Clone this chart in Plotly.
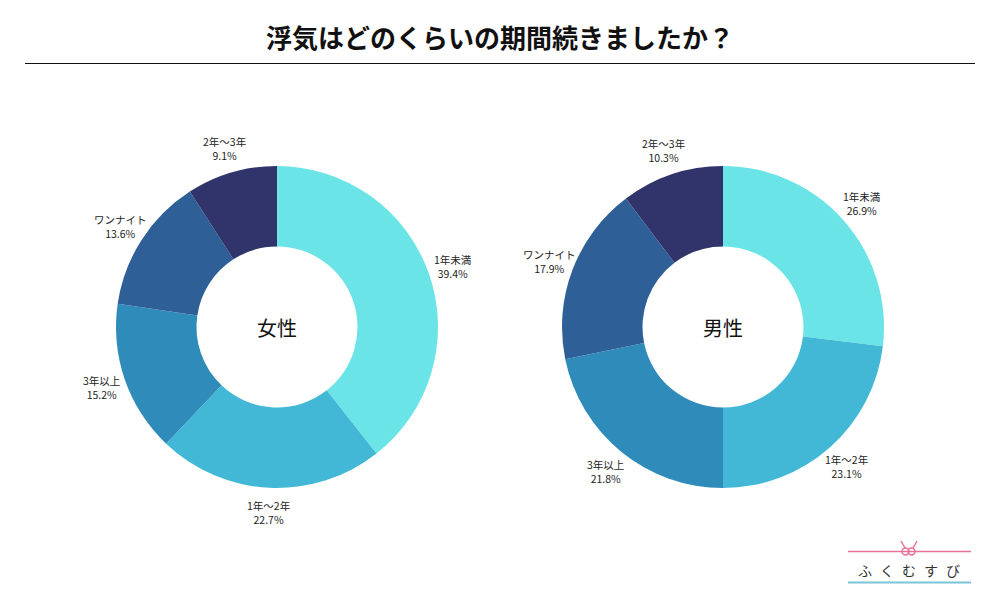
import math
import plotly.graph_objects as go

title = "浮気はどのくらいの期間続きましたか？"
categories = ["1年未満", "1年～2年", "3年以上", "ワンナイト", "2年～3年"]
female = [39.4, 22.7, 15.2, 13.6, 9.1]
male = [26.9, 23.1, 21.8, 17.9, 10.3]
groups = ["女性", "男性"]
colors = ["#6BE4E8", "#42B8D6", "#2E8BBA", "#2E5F97", "#30346B"]
logo_chars = ["ふ", "く", "む", "す", "び"]
FONT = "Noto Sans CJK JP"

W, H = 1000, 600
R = 161          # outer radius, px
LABEL_R = 186    # label-centre radius, px
CY = 327
centers = [277, 723]


def px(x):
    return x / W


def py(y):
    return 1 - y / H


fig = go.Figure()
for vals, cx, name in zip([female, male], centers, groups):
    fig.add_trace(go.Pie(
        labels=categories, values=vals, sort=False, direction="clockwise", rotation=0,
        hole=0.5, marker=dict(colors=colors, line=dict(width=0)),
        textinfo="none", hoverinfo="skip", showlegend=False,
        domain=dict(x=[px(cx - R), px(cx + R)], y=[py(CY + R), py(CY - R)]),
        name=name,
    ))
    fig.add_annotation(x=px(cx), y=py(CY), xref="paper", yref="paper", text=name,
                       showarrow=False, xanchor="center", yanchor="middle",
                       font=dict(family=FONT, size=20, color="#111111"))
    total = sum(vals)
    cum = 0.0
    for lab, v in zip(categories, vals):
        ang = math.radians((cum + v / 2) / total * 360)
        cum += v
        lx = cx + LABEL_R * math.sin(ang)
        ly = CY - LABEL_R * math.cos(ang)
        fig.add_annotation(x=px(lx), y=py(ly), xref="paper", yref="paper",
                           text=f"{lab}<br>{v:.1f}%", showarrow=False,
                           xanchor="center", yanchor="middle", align="center",
                           font=dict(family=FONT, size=10.5, color="#222222"))

fig.add_annotation(x=0.5, y=py(36), xref="paper", yref="paper", text="<b>" + title + "</b>",
                   showarrow=False, xanchor="center", yanchor="middle",
                   font=dict(family=FONT, size=26, color="#111111"))
fig.add_shape(type="line", xref="paper", yref="paper", x0=px(25), x1=px(975),
              y0=py(63.5), y1=py(63.5), line=dict(color="#111111", width=1))

# logo
PINK = "#E8709A"
fig.add_shape(type="line", xref="paper", yref="paper", x0=px(848), x1=px(971),
              y0=py(551.5), y1=py(551.5), line=dict(color=PINK, width=1.5))
fig.add_shape(type="line", xref="paper", yref="paper", x0=px(848), x1=px(971),
              y0=py(582.5), y1=py(582.5), line=dict(color="#7CC4D8", width=2))
fig.add_shape(type="circle", xref="paper", yref="paper", x0=px(902), x1=px(909),
              y0=py(555), y1=py(548), line=dict(color=PINK, width=1.5))
fig.add_shape(type="circle", xref="paper", yref="paper", x0=px(908), x1=px(915),
              y0=py(555), y1=py(548), line=dict(color=PINK, width=1.5))
fig.add_shape(type="line", xref="paper", yref="paper", x0=px(901), x1=px(905),
              y0=py(541), y1=py(548), line=dict(color=PINK, width=1.5))
fig.add_shape(type="line", xref="paper", yref="paper", x0=px(917), x1=px(913),
              y0=py(541), y1=py(548), line=dict(color=PINK, width=1.5))
for i, ch in enumerate(logo_chars):
    fig.add_annotation(x=px(865 + i * 22), y=py(570), xref="paper", yref="paper", text=ch,
                       showarrow=False, xanchor="center", yanchor="middle",
                       font=dict(family=FONT, size=14, color="#333333"))

fig.update_layout(width=W, height=H, margin=dict(l=0, r=0, t=0, b=0),
                  paper_bgcolor="white", plot_bgcolor="white")
fig.write_html("out.html", config={"displayModeBar": False})

with open("out.html", encoding="utf-8") as f:
    html = f.read()
html = html.replace("<head>", "<head><style>html,body{margin:0;padding:0;overflow:hidden}</style>", 1)
with open("out.html", "w", encoding="utf-8") as f:
    f.write(html)
